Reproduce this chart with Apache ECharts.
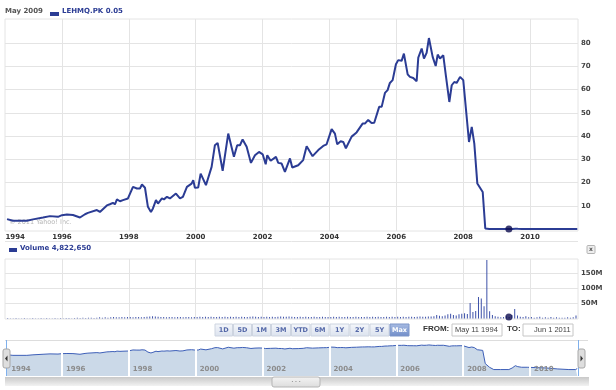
<!DOCTYPE html>
<html><head><meta charset="utf-8">
<script src="https://cdn.jsdelivr.net/npm/echarts@6/dist/echarts.min.js"></script>
<style>html,body{margin:0;padding:0;background:#fff}#c{width:616px;height:390px}</style>
</head><body><div id="c"></div>
<script>
// ---------- data ----------
const priceDates = [
"1994-05-11","1994-07-14","1994-12-13","1995-02-18","1995-06-08","1995-08-23","1995-11-18",
"1996-01-01","1996-02-24","1996-04-30","1996-07-16","1996-09-09","1996-10-11",
"1997-01-17","1997-02-19","1997-05-06","1997-06-08","1997-07-11","1997-08-02","1997-08-24","1997-09-26","1997-10-29","1997-12-22",
"1998-02-15","1998-03-30","1998-05-02","1998-05-24","1998-06-26","1998-07-28","1998-08-30","1998-09-21","1998-10-24","1998-11-15","1998-12-28",
"1999-01-19","1999-02-21","1999-03-25","1999-05-30","1999-07-13","1999-08-14","1999-09-27","1999-11-17","1999-12-05","1999-12-23",
"2000-01-28","2000-02-24","2000-04-22","2000-06-23","2000-07-29","2000-08-28","2000-10-22","2000-12-22",
"2001-02-22","2001-03-30","2001-04-29","2001-05-28","2001-07-11","2001-08-27","2001-10-10","2001-11-23",
"2002-01-02","2002-02-04","2002-02-21","2002-03-30","2002-05-27","2002-06-21","2002-07-28","2002-09-02","2002-10-27","2002-11-21",
"2003-01-25","2003-03-20","2003-04-27","2003-07-01","2003-09-01","2003-10-25","2003-12-01",
"2004-01-25","2004-03-01","2004-03-26","2004-05-03","2004-05-31","2004-06-29","2004-08-31","2004-10-24","2004-12-29",
"2005-01-23","2005-02-28","2005-04-06","2005-05-05","2005-06-28","2005-07-25","2005-08-30","2005-09-28","2005-10-23","2005-11-22","2005-12-28",
"2006-01-22","2006-02-28","2006-03-25","2006-05-05","2006-05-30","2006-07-05","2006-08-11","2006-08-29","2006-10-05","2006-10-30","2006-11-28","2006-12-23",
"2007-02-02","2007-03-07","2007-03-29","2007-04-23","2007-05-29","2007-06-28","2007-08-03","2007-08-29","2007-09-26","2007-10-22","2007-11-28",
"2008-01-02","2008-03-05","2008-04-04","2008-05-02","2008-06-04","2008-08-02","2008-08-30","2008-10-15","2008-12-01",
"2009-02-15","2009-05-15","2009-06-20","2009-07-25","2009-08-20","2009-10-01","2009-12-01",
"2010-03-01","2010-07-01","2010-11-01","2011-03-01","2011-05-15","2011-06-01"
];
const priceValues = [
4.3,3.6,3.6,4.2,5.0,5.6,5.3,
6.0,6.3,6.1,5.0,6.4,7.0,
8.2,7.4,10.2,10.7,11.3,10.7,12.8,12.0,12.5,13.2,
18.2,17.5,17.5,19.2,17.8,9.6,7.4,8.9,12.5,11.0,13.2,
12.8,13.9,13.2,15.3,13.2,13.9,18.2,19.6,21.1,17.8,
17.9,23.9,18.9,26.8,36.1,37.1,25.1,41.1,
31.1,36.1,36.1,38.6,35.4,28.5,31.8,33.2,
32.2,27.9,31.8,29.4,31.1,28.5,28.2,24.6,30.4,26.5,
27.5,29.7,35.7,31.4,34.0,35.8,36.5,
43.0,41.1,36.5,37.8,37.5,34.8,39.8,41.6,45.4,
45.4,47.0,45.7,45.8,52.6,52.6,58.6,59.8,62.9,64.1,70.9,
72.7,72.4,75.5,66.6,65.5,65.0,63.6,73.8,77.7,73.4,75.8,82.2,
74.1,70.2,75.1,73.4,74.8,65.5,54.7,61.9,63.3,62.9,65.5,
64.1,37.5,44.0,36.8,19.6,16.0,0.3,0.1,0.05,
0.05,0.05,0.08,0.16,0.12,0.1,0.1,
0.09,0.08,0.06,0.05,0.05,0.07
];
// monthly volume in millions, starting May 1994
const volumeStart = "1994-05";
const volumeValues = [
2,1,1,2,1,1,2,1,
1,2,1,1,2,1,2,1,1,2,1,2,
1,2,2,1,2,3,2,3,2,3,3,2,
3,4,3,4,3,4,5,4,4,5,4,5,
5,4,5,5,4,5,6,7,8,7,6,5,
5,4,5,5,4,5,5,4,5,5,4,5,
5,6,5,6,5,6,5,5,6,5,6,5,
6,5,6,5,6,5,5,6,7,6,5,6,
5,6,5,6,5,6,7,6,6,7,6,5,
5,6,5,6,5,5,6,5,5,6,5,5,
5,6,5,6,5,5,6,5,5,6,5,5,
5,6,5,6,5,6,5,5,6,5,6,5,
6,5,6,5,6,6,5,6,7,6,6,7,
7,8,12,9,8,10,14,16,12,10,14,16,
18,15,52,22,25,72,67,41,195,24,12,8,
6,4,5,8,5,12,32,10,6,5,8,4,
5,3,4,6,3,4,3,5,3,4,3,3,
3,4,3,4,10
];
const yearTicks = [1996,1998,2000,2002,2004,2006,2008,2010];
const priceTicks = [10,20,30,40,50,60,70,80];
const volumeTicks = [50,100,150];
const markerDate = "2009-05-15";
const markerPrice = 0.05;
const markerVolume = 4.82265;
const headerDate = "May 2009";
const tickerText = "LEHMQ.PK 0.05";
const volumeText = "Volume 4,822,650";
const rangeButtons = ["1D","5D","1M","3M","YTD","6M","1Y","2Y","5Y","Max"];
const fromText = "May 11 1994", toText = "Jun 1 2011";

// ---------- helpers ----------
function toYear(s){const p=s.split('-').map(Number);const y=p[0],m=p[1]||1,d=p[2]||1;
  const a=Date.UTC(y,0,1),b=Date.UTC(y+1,0,1);return y+(Date.UTC(y,m-1,d)-a)/(b-a);}
const XMIN = 1994.295, XMAX = 2011.435;
const priceData = priceDates.map((d,i)=>[toYear(d), priceValues[i]]);
const vs = volumeStart.split('-').map(Number);
const volumeData = volumeValues.map((v,i)=>{const mi=vs[1]-1+i;const y=vs[0]+Math.floor(mi/12);const m=mi%12;return [y+(m+0.5)/12, v];});
const mX = toYear(markerDate);

const LINE = '#2b3c94';
const GRID = '#e4e4e4';
const FONT = 'DejaVu Sans';

function xAxisBase(idx){return {type:'value',gridIndex:idx,min:XMIN,max:XMAX,
  axisLine:{show:false},axisTick:{show:false,customValues:yearTicks},
  splitLine:{show:true,customValues:yearTicks,lineStyle:{color:GRID,width:1}},
  axisLabel:{show:false}};}

const x0 = xAxisBase(0);
x0.axisLabel = {show:true,customValues:[1994.6].concat(yearTicks),formatter:v=>String(Math.floor(v+1e-6)),
  margin:3,color:'#333',fontFamily:FONT,fontWeight:'bold',fontSize:7};
const x1 = xAxisBase(1);
const x2 = xAxisBase(2);
x2.splitLine = {show:false};
x2.z = 10;
x2.axisLabel = {show:true,inside:true,customValues:[1994.36].concat(yearTicks),formatter:v=>String(Math.floor(v+1e-6)),
  margin:3,align:'left',padding:[0,0,0,4],color:'#8c8c8c',fontFamily:FONT,fontWeight:'bold',fontSize:7};

const graphics = [];
// header
graphics.push({type:'text',left:5,top:8,style:{text:headerDate,fill:'#555',font:'bold 7px "DejaVu Sans"'}});
graphics.push({type:'rect',shape:{x:50,y:12,width:9,height:4},style:{fill:LINE}});
graphics.push({type:'text',left:62,top:8,style:{text:tickerText,fill:LINE,font:'bold 7px "DejaVu Sans"'}});
graphics.push({type:'text',left:9,top:219,style:{text:'\u00a9 2011 Yahoo! Inc.',fill:'#b8b8b8',font:'6.5px "DejaVu Sans"'}});
// volume header
graphics.push({type:'line',shape:{x1:5,y1:241.5,x2:578,y2:241.5},style:{stroke:GRID,lineWidth:1}});
graphics.push({type:'rect',shape:{x:9,y:248,width:8,height:4},style:{fill:LINE}});
graphics.push({type:'text',left:20,top:245,style:{text:volumeText,fill:LINE,font:'bold 7px "DejaVu Sans"'}});
graphics.push({type:'rect',shape:{x:587,y:245.5,width:8,height:8,r:1},style:{fill:'#eeeeee',stroke:'#b4b4b4',lineWidth:1}});
graphics.push({type:'text',x:591,y:249.5,style:{text:'x',fill:'#555',font:'bold 6px "DejaVu Sans"',align:'center',verticalAlign:'middle'}});
// range selector
const bounds=[215,233.5,252.5,271.5,291.5,311,330,350,370,390,410];
rangeButtons.forEach((b,i)=>{
  const x=bounds[i],w=bounds[i+1]-bounds[i]-1; const act=(b==='Max');
  graphics.push({type:'rect',shape:{x:x,y:324,width:w,height:12},style:{
    fill:act?new echarts.graphic.LinearGradient(0,0,0,1,[{offset:0,color:'#a9bde4'},{offset:1,color:'#6f8cc8'}])
            :new echarts.graphic.LinearGradient(0,0,0,1,[{offset:0,color:'#f5f7fb'},{offset:1,color:'#dbe2ee'}]),
    stroke:act?'#7d95c8':'#cdd4e0',lineWidth:1}});
  graphics.push({type:'text',x:x+w/2,y:330.5,style:{text:b,fill:act?'#fff':'#5468a8',font:'bold 6.5px "DejaVu Sans"',align:'center',verticalAlign:'middle'}});
});
graphics.push({type:'text',left:423,top:325,style:{text:'FROM:',fill:'#333',font:'bold 8px "Liberation Sans"'}});
graphics.push({type:'rect',shape:{x:452,y:324,width:50,height:12},style:{fill:'#fff',stroke:'#c6c6c6',lineWidth:1}});
graphics.push({type:'text',left:455,top:326,style:{text:fromText,fill:'#444',font:'7.5px "Liberation Sans"'}});
graphics.push({type:'text',left:507,top:325,style:{text:'TO:',fill:'#333',font:'bold 8px "Liberation Sans"'}});
graphics.push({type:'rect',shape:{x:523,y:324,width:50,height:12},style:{fill:'#fff',stroke:'#c6c6c6',lineWidth:1}});
graphics.push({type:'text',left:534,top:326,style:{text:toText,fill:'#444',font:'7.5px "Liberation Sans"'}});
// navigator frame
graphics.push({type:'line',shape:{x1:5,y1:340.5,x2:588,y2:340.5},style:{stroke:'#dddddd',lineWidth:1}});
graphics.push({type:'line',shape:{x1:6.5,y1:340,x2:6.5,y2:376},style:{stroke:'#7fb0ec',lineWidth:1},z:20});
graphics.push({type:'line',shape:{x1:578.5,y1:340,x2:578.5,y2:376},style:{stroke:'#7fb0ec',lineWidth:1},z:20});
graphics.push({type:'rect',shape:{x:3,y:349,width:7,height:19,r:2},style:{fill:'#dedede',stroke:'#a8a8a8',lineWidth:1},z:21});
graphics.push({type:'polygon',shape:{points:[[7.5,355.5],[7.5,361.5],[5,358.5]]},style:{fill:'#333'},z:22});
graphics.push({type:'rect',shape:{x:578,y:349,width:7,height:19,r:2},style:{fill:'#dedede',stroke:'#a8a8a8',lineWidth:1},z:21});
graphics.push({type:'polygon',shape:{points:[[580.5,355.5],[580.5,361.5],[583,358.5]]},style:{fill:'#333'},z:22});
// scrollbar
graphics.push({type:'rect',shape:{x:5,y:377,width:584,height:9},style:{fill:new echarts.graphic.LinearGradient(0,0,0,1,[{offset:0,color:'#c9c9c9'},{offset:1,color:'#f2f2f2'}])}});
graphics.push({type:'rect',shape:{x:272,y:377,width:48,height:10,r:2},style:{fill:new echarts.graphic.LinearGradient(0,0,0,1,[{offset:0,color:'#f4f4f4'},{offset:1,color:'#dcdcdc'}]),stroke:'#b5b5b5',lineWidth:1}});
graphics.push({type:'text',x:296,y:382,style:{text:'\u2022 \u2022 \u2022',fill:'#999',font:'4px "DejaVu Sans"',align:'center',verticalAlign:'middle'}});

const chart = echarts.init(document.getElementById('c'),null,{renderer:'canvas'});
chart.setOption({
  animation:false,
  backgroundColor:'#fff',
  grid:[
    {left:5,top:19,width:573,height:212,show:true,borderColor:GRID,borderWidth:1,containLabel:false},
    {left:5,top:259,width:573,height:60,show:true,borderColor:GRID,borderWidth:1,containLabel:false},
    {left:5,top:341,width:573,height:35,show:false,containLabel:false}
  ],
  xAxis:[x0,x1,x2],
  yAxis:[
    {type:'value',gridIndex:0,position:'right',min:-0.8,max:90.4,
      axisLine:{show:false},axisTick:{show:false,customValues:priceTicks},
      splitLine:{show:true,customValues:priceTicks,lineStyle:{color:GRID}},
      axisLabel:{customValues:priceTicks,margin:3,color:'#444',fontFamily:FONT,fontWeight:'bold',fontSize:7}},
    {type:'value',gridIndex:1,position:'right',min:-1.5,max:198,
      axisLine:{show:false},axisTick:{show:false,customValues:volumeTicks},
      splitLine:{show:true,customValues:volumeTicks,lineStyle:{color:GRID}},
      axisLabel:{customValues:volumeTicks,formatter:v=>v+'M',margin:3,color:'#444',fontFamily:FONT,fontWeight:'bold',fontSize:7}},
    {type:'log',gridIndex:2,min:0.0072,max:270,logBase:10,
      axisLine:{show:false},axisTick:{show:false},splitLine:{show:false},axisLabel:{show:false}}
  ],
  series:[
    {type:'line',xAxisIndex:0,yAxisIndex:0,data:priceData,showSymbol:false,smooth:false,
      lineStyle:{color:LINE,width:2},z:3,silent:true},
    {type:'scatter',xAxisIndex:0,yAxisIndex:0,data:[[mX,markerPrice]],symbolSize:7,itemStyle:{color:'#0b0b4f'},z:5,silent:true},
    {type:'bar',xAxisIndex:1,yAxisIndex:1,data:volumeData,barWidth:1,itemStyle:{color:'#3d51a9'},z:3,silent:true},
    {type:'scatter',xAxisIndex:1,yAxisIndex:1,data:[[mX,markerVolume]],symbolSize:7,itemStyle:{color:'#0b0b4f'},z:5,silent:true},
    {type:'line',xAxisIndex:2,yAxisIndex:2,data:priceData,showSymbol:false,
      lineStyle:{color:'#3d5fb8',width:1},areaStyle:{color:'#cbd9e8',opacity:1,origin:'start'},z:2,silent:true,
      markLine:{silent:true,symbol:'none',label:{show:false},z:3,
        lineStyle:{color:'#ffffff',width:2,type:'solid'},
        data:yearTicks.map(y=>({xAxis:y}))}}
  ],
  graphic:graphics
});
</script></body></html>
